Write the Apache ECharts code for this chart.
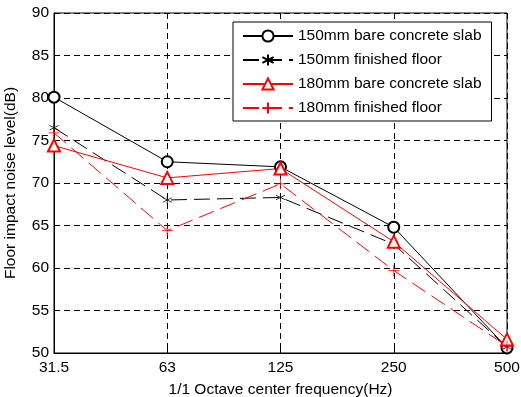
<!DOCTYPE html>
<html>
<head>
<meta charset="utf-8">
<script src="https://cdn.jsdelivr.net/npm/echarts@6/dist/echarts.min.js"></script>
<style>
  html, body { margin: 0; padding: 0; background: #fff; }
  #chart { width: 521px; height: 397px; }
</style>
</head>
<body>
<div id="chart"></div>
<script>
const categories = ['31.5', '63', '125', '250', '500'];
const bare150 = [80.1, 72.5, 71.9, 64.8, 50.6];
const finished150 = [76.5, 68.0, 68.3, 62.8, 50.7];
const bare180 = [74.4, 70.6, 71.7, 63.1, 51.6];
const finished180 = [75.9, 64.4, 69.9, 59.7, 50.8];

const FONT = 'Liberation Sans, Arial, sans-serif';
const STAR = 'path://M0,-1L0,1M-0.87,-0.5L0.87,0.5M-0.87,0.5L0.87,-0.5';
const PLUS = 'path://M0,-1L0,1M-1,0L1,0';

const chart = echarts.init(document.getElementById('chart'), null, { renderer: 'canvas' });

const makeSeries = (name, data, color, dashed, symbol, size) => ({
  name,
  type: 'line',
  data,
  symbol,
  symbolSize: size,
  showSymbol: true,
  animation: false,
  lineStyle: { color, width: 1, type: dashed ? [16, 7] : 'solid' },
  itemStyle: { color, borderColor: color, borderWidth: 0.8 },
  emphasis: { disabled: true },
});

chart.setOption({
  backgroundColor: '#fff',
  textStyle: { fontFamily: FONT },
  grid: {
    left: 54, right: 14, top: 13, bottom: 44,
    outerBoundsMode: 'none', containLabel: false,
    show: true, borderColor: '#000', borderWidth: 1,
  },
  legend: {
    left: 233,
    top: 22,
    orient: 'vertical',
    backgroundColor: '#fff',
    borderColor: '#000',
    borderWidth: 1,
    padding: [6, 10, 5, 9],
    itemWidth: 50,
    itemHeight: 14,
    itemGap: 8,
    textStyle: { fontSize: 15.5, color: '#000', fontFamily: FONT },
    data: ['150mm bare concrete slab', '150mm finished floor', '180mm bare concrete slab', '180mm finished floor'],
  },
  xAxis: {
    type: 'category',
    data: categories,
    boundaryGap: false,
    name: '1/1 Octave center frequency(Hz)',
    nameLocation: 'middle',
    nameGap: 29,
    nameTextStyle: { fontSize: 15.5, color: '#000' },
    axisLine: { lineStyle: { color: '#000', width: 1 } },
    axisTick: { inside: true, length: 5, lineStyle: { color: '#000' } },
    axisLabel: { fontSize: 15.5, color: '#000', margin: 7 },
    splitLine: { show: true, lineStyle: { color: '#000', type: [6, 4], width: 1 } },
  },
  yAxis: {
    type: 'value',
    min: 50,
    max: 90,
    interval: 5,
    name: 'Floor impact noise level(dB)',
    nameLocation: 'middle',
    nameGap: 35,
    nameTextStyle: { fontSize: 15.5, color: '#000' },
    axisLine: { show: true, lineStyle: { color: '#000', width: 1 } },
    axisTick: { show: true, inside: true, length: 5, lineStyle: { color: '#000' } },
    axisLabel: { fontSize: 15.5, color: '#000', margin: 5 },
    splitLine: { show: true, lineStyle: { color: '#000', type: [6, 4], width: 1 } },
  },
  series: [
    makeSeries('150mm bare concrete slab', bare150, '#000', false, 'emptyCircle', 11),
    makeSeries('150mm finished floor', finished150, '#000', true, STAR, 9),
    makeSeries('180mm bare concrete slab', bare180, '#ff0000', false, 'emptyTriangle', 12),
    makeSeries('180mm finished floor', finished180, '#ff0000', true, PLUS, 11),
  ],
});
</script>
</body>
</html>
